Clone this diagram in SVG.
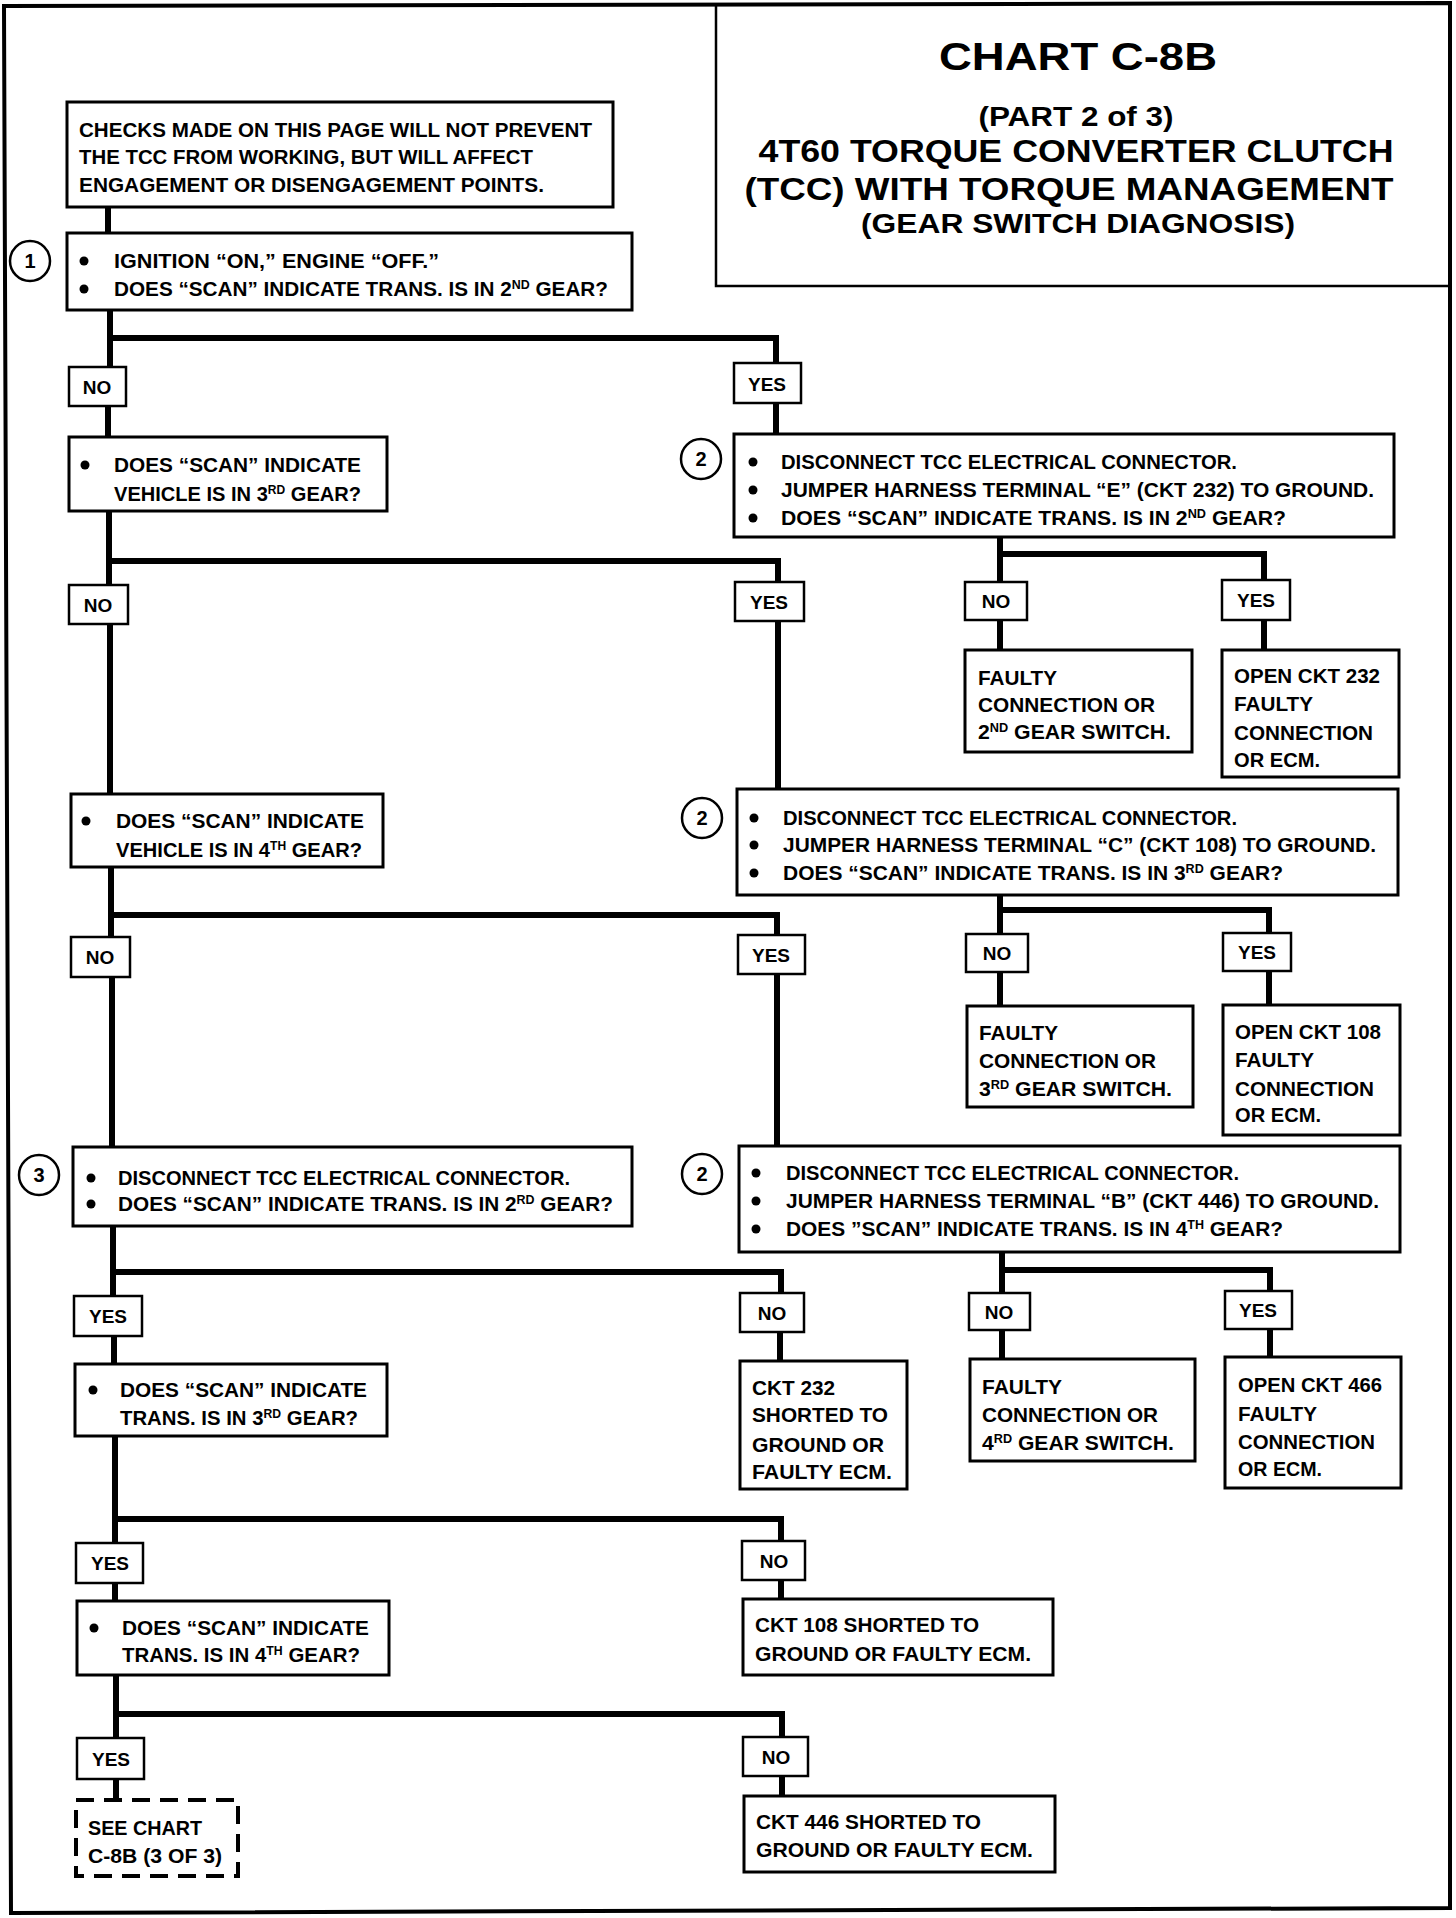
<svg xmlns="http://www.w3.org/2000/svg" width="1456" height="1918" viewBox="0 0 1456 1918">
<style>
.box{fill:#fff;stroke:#000;stroke-width:3}
.lbl{fill:#fff;stroke:#000;stroke-width:2.5}
.dash{fill:#fff;stroke:#000;stroke-width:4;stroke-dasharray:18 10}
.t{font-family:"Liberation Sans",Arial,sans-serif;font-weight:bold;font-size:20px;fill:#000}
.ti{font-family:"Liberation Sans",Arial,sans-serif;font-weight:bold;fill:#000;text-anchor:middle}
.lt{font-family:"Liberation Sans",Arial,sans-serif;font-weight:bold;font-size:19px;fill:#000;text-anchor:middle}
.conn path{fill:none;stroke:#000;stroke-width:6}
.num{fill:#fff;stroke:#000;stroke-width:2.5}
.nt{font-family:"Liberation Sans",Arial,sans-serif;font-weight:bold;font-size:20px;text-anchor:middle}
.sup{font-size:12px}
</style>
<rect x="0" y="0" width="1456" height="1918" fill="#fff"/>
<path d="M4,6 L1450,3 L1450,1908 L11,1913 Z" fill="none" stroke="#000" stroke-width="4"/>

<g id="title">
<path d="M716,5 V286 H1449" fill="none" stroke="#000" stroke-width="2.5"/>
<text class="ti" x="1078" y="70" font-size="38" textLength="278" lengthAdjust="spacingAndGlyphs">CHART C-8B</text>
<text class="ti" x="1076" y="126" font-size="27" textLength="195" lengthAdjust="spacingAndGlyphs">(PART  2 of 3)</text>
<text class="ti" x="1076" y="162" font-size="31" textLength="635" lengthAdjust="spacingAndGlyphs">4T60 TORQUE CONVERTER CLUTCH</text>
<text class="ti" x="1069" y="200" font-size="31" textLength="649" lengthAdjust="spacingAndGlyphs">(TCC) WITH TORQUE MANAGEMENT</text>
<text class="ti" x="1078" y="233" font-size="27" textLength="434" lengthAdjust="spacingAndGlyphs">(GEAR SWITCH DIAGNOSIS)</text>
</g>

<g class="conn" id="connectors">
<path d="M108,207 V233"/>
<path d="M110,310 V367"/>
<path d="M107,338 H776 V363"/>
<path d="M108,406 V437"/>
<path d="M776,403 V434"/>
<path d="M109,511 V585"/>
<path d="M106,561 H778 V582"/>
<path d="M1000,537 V582"/>
<path d="M997,554 H1264 V580"/>
<path d="M1000,620 V650"/>
<path d="M1264,620 V650"/>
<path d="M110,624 V794"/>
<path d="M778,621 V789"/>
<path d="M111,867 V937"/>
<path d="M108,915 H777 V935"/>
<path d="M1000,895 V934"/>
<path d="M997,910 H1269 V933"/>
<path d="M1000,972 V1006"/>
<path d="M1269,971 V1005"/>
<path d="M112,977 V1147"/>
<path d="M777,974 V1146"/>
<path d="M1002,1252 V1293"/>
<path d="M999,1270 H1270 V1291"/>
<path d="M1002,1330 V1359"/>
<path d="M1270,1329 V1357"/>
<path d="M113,1226 V1296"/>
<path d="M110,1272 H781 V1293"/>
<path d="M780,1332 V1361"/>
<path d="M114,1336 V1364"/>
<path d="M115,1436 V1543"/>
<path d="M112,1519 H781 V1541"/>
<path d="M781,1580 V1599"/>
<path d="M115,1583 V1601"/>
<path d="M116,1675 V1738"/>
<path d="M113,1714 H782 V1737"/>
<path d="M782,1776 V1796"/>
<path d="M116,1779 V1800"/>
</g>

<g id="n-checks">
<rect class="box" x="67" y="102" width="546" height="105"/>
<text class="t" x="79" y="137" font-size="21" textLength="513" lengthAdjust="spacingAndGlyphs">CHECKS MADE ON THIS PAGE WILL NOT PREVENT</text>
<text class="t" x="79" y="164" font-size="21" textLength="454" lengthAdjust="spacingAndGlyphs">THE TCC FROM WORKING, BUT WILL AFFECT</text>
<text class="t" x="79" y="192" font-size="21" textLength="465" lengthAdjust="spacingAndGlyphs">ENGAGEMENT OR DISENGAGEMENT POINTS.</text>
</g>

<g id="n-step1">
<circle class="num" cx="30" cy="261" r="20"/>
<text class="nt" x="30" y="268">1</text>
<rect class="box" x="67" y="233" width="565" height="77"/>
<circle cx="84" cy="261" r="4.5"/>
<circle cx="84" cy="289" r="4.5"/>
<text class="t" x="114" y="268" textLength="325" lengthAdjust="spacingAndGlyphs">IGNITION “ON,” ENGINE “OFF.”</text>
<text class="t" x="114" y="296" textLength="494" lengthAdjust="spacingAndGlyphs">DOES “SCAN” INDICATE TRANS. IS IN 2<tspan class="sup" dy="-7">ND</tspan><tspan dy="7"> GEAR?</tspan></text>
</g>

<g id="l-no1"><rect class="lbl" x="69" y="367" width="57" height="39"/><text class="lt" x="97" y="394">NO</text></g>
<g id="l-yes1"><rect class="lbl" x="734" y="363" width="67" height="40"/><text class="lt" x="767" y="391">YES</text></g>

<g id="n-veh3">
<rect class="box" x="69" y="437" width="318" height="74"/>
<circle cx="85" cy="465" r="4.5"/>
<text class="t" x="114" y="472" textLength="247" lengthAdjust="spacingAndGlyphs">DOES “SCAN” INDICATE</text>
<text class="t" x="114" y="501" textLength="247" lengthAdjust="spacingAndGlyphs">VEHICLE IS IN 3<tspan class="sup" dy="-7">RD</tspan><tspan dy="7"> GEAR?</tspan></text>
</g>

<g id="n-step2a">
<circle class="num" cx="701" cy="459" r="20"/>
<text class="nt" x="701" y="466">2</text>
<rect class="box" x="734" y="434" width="660" height="103"/>
<circle cx="753" cy="462" r="4.5"/>
<circle cx="753" cy="490" r="4.5"/>
<circle cx="753" cy="518" r="4.5"/>
<text class="t" x="781" y="469" textLength="456" lengthAdjust="spacingAndGlyphs">DISCONNECT TCC ELECTRICAL CONNECTOR.</text>
<text class="t" x="781" y="497" textLength="593" lengthAdjust="spacingAndGlyphs">JUMPER HARNESS TERMINAL “E” (CKT 232) TO GROUND.</text>
<text class="t" x="781" y="525" textLength="505" lengthAdjust="spacingAndGlyphs">DOES “SCAN” INDICATE TRANS. IS IN 2<tspan class="sup" dy="-7">ND</tspan><tspan dy="7"> GEAR?</tspan></text>
</g>

<g id="l-no2"><rect class="lbl" x="69" y="585" width="59" height="39"/><text class="lt" x="98" y="612">NO</text></g>
<g id="l-yes2"><rect class="lbl" x="735" y="582" width="69" height="39"/><text class="lt" x="769" y="609">YES</text></g>
<g id="l-no2a"><rect class="lbl" x="965" y="582" width="62" height="38"/><text class="lt" x="996" y="608">NO</text></g>
<g id="l-yes2a"><rect class="lbl" x="1222" y="580" width="68" height="40"/><text class="lt" x="1256" y="607">YES</text></g>

<g id="n-faulty2">
<rect class="box" x="965" y="650" width="227" height="102"/>
<text class="t" x="978" y="685" textLength="79" lengthAdjust="spacingAndGlyphs">FAULTY</text>
<text class="t" x="978" y="712" textLength="177" lengthAdjust="spacingAndGlyphs">CONNECTION OR</text>
<text class="t" x="978" y="739" textLength="193" lengthAdjust="spacingAndGlyphs">2<tspan class="sup" dy="-7">ND</tspan><tspan dy="7"> GEAR SWITCH.</tspan></text>
</g>

<g id="n-open232">
<rect class="box" x="1222" y="650" width="177" height="127"/>
<text class="t" x="1234" y="683" textLength="146" lengthAdjust="spacingAndGlyphs">OPEN CKT 232</text>
<text class="t" x="1234" y="711" textLength="79" lengthAdjust="spacingAndGlyphs">FAULTY</text>
<text class="t" x="1234" y="740" textLength="139" lengthAdjust="spacingAndGlyphs">CONNECTION</text>
<text class="t" x="1234" y="767" textLength="86" lengthAdjust="spacingAndGlyphs">OR ECM.</text>
</g>

<g id="n-veh4">
<rect class="box" x="71" y="794" width="312" height="73"/>
<circle cx="86" cy="821" r="4.5"/>
<text class="t" x="116" y="828" textLength="248" lengthAdjust="spacingAndGlyphs">DOES “SCAN” INDICATE</text>
<text class="t" x="116" y="857" textLength="246" lengthAdjust="spacingAndGlyphs">VEHICLE IS IN 4<tspan class="sup" dy="-7">TH</tspan><tspan dy="7"> GEAR?</tspan></text>
</g>

<g id="n-step2b">
<circle class="num" cx="702" cy="818" r="20"/>
<text class="nt" x="702" y="825">2</text>
<rect class="box" x="737" y="789" width="661" height="106"/>
<circle cx="754" cy="818" r="4.5"/>
<circle cx="754" cy="845" r="4.5"/>
<circle cx="754" cy="873" r="4.5"/>
<text class="t" x="783" y="825" textLength="454" lengthAdjust="spacingAndGlyphs">DISCONNECT TCC ELECTRICAL CONNECTOR.</text>
<text class="t" x="783" y="852" textLength="593" lengthAdjust="spacingAndGlyphs">JUMPER HARNESS TERMINAL “C” (CKT 108) TO GROUND.</text>
<text class="t" x="783" y="880" textLength="500" lengthAdjust="spacingAndGlyphs">DOES “SCAN” INDICATE TRANS. IS IN 3<tspan class="sup" dy="-7">RD</tspan><tspan dy="7"> GEAR?</tspan></text>
</g>

<g id="l-no3"><rect class="lbl" x="71" y="937" width="59" height="40"/><text class="lt" x="100" y="964">NO</text></g>
<g id="l-yes3"><rect class="lbl" x="738" y="935" width="67" height="39"/><text class="lt" x="771" y="962">YES</text></g>
<g id="l-no2b"><rect class="lbl" x="966" y="934" width="62" height="38"/><text class="lt" x="997" y="960">NO</text></g>
<g id="l-yes2b"><rect class="lbl" x="1223" y="933" width="68" height="38"/><text class="lt" x="1257" y="959">YES</text></g>

<g id="n-faulty3">
<rect class="box" x="967" y="1006" width="226" height="101"/>
<text class="t" x="979" y="1040" textLength="79" lengthAdjust="spacingAndGlyphs">FAULTY</text>
<text class="t" x="979" y="1068" textLength="177" lengthAdjust="spacingAndGlyphs">CONNECTION OR</text>
<text class="t" x="979" y="1096" textLength="193" lengthAdjust="spacingAndGlyphs">3<tspan class="sup" dy="-7">RD</tspan><tspan dy="7"> GEAR SWITCH.</tspan></text>
</g>

<g id="n-open108">
<rect class="box" x="1223" y="1005" width="177" height="130"/>
<text class="t" x="1235" y="1039" textLength="146" lengthAdjust="spacingAndGlyphs">OPEN CKT 108</text>
<text class="t" x="1235" y="1067" textLength="79" lengthAdjust="spacingAndGlyphs">FAULTY</text>
<text class="t" x="1235" y="1096" textLength="139" lengthAdjust="spacingAndGlyphs">CONNECTION</text>
<text class="t" x="1235" y="1122" textLength="86" lengthAdjust="spacingAndGlyphs">OR ECM.</text>
</g>

<g id="n-step3">
<circle class="num" cx="39" cy="1175" r="20"/>
<text class="nt" x="39" y="1182">3</text>
<rect class="box" x="73" y="1147" width="559" height="79"/>
<circle cx="91" cy="1178" r="4.5"/>
<circle cx="91" cy="1204" r="4.5"/>
<text class="t" x="118" y="1185" textLength="452" lengthAdjust="spacingAndGlyphs">DISCONNECT TCC ELECTRICAL CONNECTOR.</text>
<text class="t" x="118" y="1211" textLength="495" lengthAdjust="spacingAndGlyphs">DOES “SCAN” INDICATE TRANS. IS IN 2<tspan class="sup" dy="-7">RD</tspan><tspan dy="7"> GEAR?</tspan></text>
</g>

<g id="n-step2c">
<circle class="num" cx="702" cy="1174" r="20"/>
<text class="nt" x="702" y="1181">2</text>
<rect class="box" x="739" y="1146" width="661" height="106"/>
<circle cx="756" cy="1173" r="4.5"/>
<circle cx="756" cy="1201" r="4.5"/>
<circle cx="756" cy="1229" r="4.5"/>
<text class="t" x="786" y="1180" textLength="453" lengthAdjust="spacingAndGlyphs">DISCONNECT TCC ELECTRICAL CONNECTOR.</text>
<text class="t" x="786" y="1208" textLength="593" lengthAdjust="spacingAndGlyphs">JUMPER HARNESS TERMINAL “B” (CKT 446) TO GROUND.</text>
<text class="t" x="786" y="1236" textLength="497" lengthAdjust="spacingAndGlyphs">DOES ”SCAN” INDICATE TRANS. IS IN 4<tspan class="sup" dy="-7">TH</tspan><tspan dy="7"> GEAR?</tspan></text>
</g>

<g id="l-yes4"><rect class="lbl" x="74" y="1296" width="68" height="40"/><text class="lt" x="108" y="1323">YES</text></g>
<g id="l-no4"><rect class="lbl" x="740" y="1293" width="64" height="39"/><text class="lt" x="772" y="1320">NO</text></g>
<g id="l-no2c"><rect class="lbl" x="969" y="1293" width="61" height="37"/><text class="lt" x="999" y="1319">NO</text></g>
<g id="l-yes2c"><rect class="lbl" x="1225" y="1291" width="67" height="38"/><text class="lt" x="1258" y="1317">YES</text></g>

<g id="n-ckt232">
<rect class="box" x="740" y="1361" width="167" height="128"/>
<text class="t" x="752" y="1395" textLength="83" lengthAdjust="spacingAndGlyphs">CKT 232</text>
<text class="t" x="752" y="1422" textLength="136" lengthAdjust="spacingAndGlyphs">SHORTED TO</text>
<text class="t" x="752" y="1452" textLength="132" lengthAdjust="spacingAndGlyphs">GROUND OR</text>
<text class="t" x="752" y="1479" textLength="140" lengthAdjust="spacingAndGlyphs">FAULTY ECM.</text>
</g>

<g id="n-faulty4">
<rect class="box" x="970" y="1359" width="225" height="102"/>
<text class="t" x="982" y="1394" textLength="80" lengthAdjust="spacingAndGlyphs">FAULTY</text>
<text class="t" x="982" y="1422" textLength="176" lengthAdjust="spacingAndGlyphs">CONNECTION OR</text>
<text class="t" x="982" y="1450" textLength="192" lengthAdjust="spacingAndGlyphs">4<tspan class="sup" dy="-7">RD</tspan><tspan dy="7"> GEAR SWITCH.</tspan></text>
</g>

<g id="n-open466">
<rect class="box" x="1225" y="1357" width="176" height="131"/>
<text class="t" x="1238" y="1392" textLength="144" lengthAdjust="spacingAndGlyphs">OPEN CKT 466</text>
<text class="t" x="1238" y="1421" textLength="79" lengthAdjust="spacingAndGlyphs">FAULTY</text>
<text class="t" x="1238" y="1449" textLength="137" lengthAdjust="spacingAndGlyphs">CONNECTION</text>
<text class="t" x="1238" y="1476" textLength="84" lengthAdjust="spacingAndGlyphs">OR ECM.</text>
</g>

<g id="n-trans3">
<rect class="box" x="75" y="1364" width="312" height="72"/>
<circle cx="93" cy="1390" r="4.5"/>
<text class="t" x="120" y="1397" textLength="247" lengthAdjust="spacingAndGlyphs">DOES “SCAN” INDICATE</text>
<text class="t" x="120" y="1425" textLength="238" lengthAdjust="spacingAndGlyphs">TRANS. IS IN 3<tspan class="sup" dy="-7">RD</tspan><tspan dy="7"> GEAR?</tspan></text>
</g>

<g id="l-yes5"><rect class="lbl" x="76" y="1543" width="67" height="40"/><text class="lt" x="110" y="1570">YES</text></g>
<g id="l-no5"><rect class="lbl" x="742" y="1541" width="63" height="39"/><text class="lt" x="774" y="1568">NO</text></g>

<g id="n-ckt108">
<rect class="box" x="743" y="1599" width="310" height="76"/>
<text class="t" x="755" y="1632" textLength="224" lengthAdjust="spacingAndGlyphs">CKT 108 SHORTED TO</text>
<text class="t" x="755" y="1661" textLength="276" lengthAdjust="spacingAndGlyphs">GROUND OR FAULTY ECM.</text>
</g>

<g id="n-trans4">
<rect class="box" x="77" y="1601" width="312" height="74"/>
<circle cx="94" cy="1628" r="4.5"/>
<text class="t" x="122" y="1635" textLength="247" lengthAdjust="spacingAndGlyphs">DOES “SCAN” INDICATE</text>
<text class="t" x="122" y="1662" textLength="238" lengthAdjust="spacingAndGlyphs">TRANS. IS IN 4<tspan class="sup" dy="-7">TH</tspan><tspan dy="7"> GEAR?</tspan></text>
</g>

<g id="l-yes6"><rect class="lbl" x="77" y="1738" width="67" height="41"/><text class="lt" x="111" y="1766">YES</text></g>
<g id="l-no6"><rect class="lbl" x="743" y="1737" width="65" height="39"/><text class="lt" x="776" y="1764">NO</text></g>

<g id="n-seechart">
<rect class="dash" x="76" y="1800" width="162" height="76"/>
<text class="t" x="88" y="1835" textLength="114" lengthAdjust="spacingAndGlyphs">SEE CHART</text>
<text class="t" x="88" y="1863" textLength="134" lengthAdjust="spacingAndGlyphs">C-8B  (3 OF 3)</text>
</g>

<g id="n-ckt446">
<rect class="box" x="744" y="1796" width="311" height="76"/>
<text class="t" x="756" y="1829" textLength="225" lengthAdjust="spacingAndGlyphs">CKT 446 SHORTED TO</text>
<text class="t" x="756" y="1857" textLength="277" lengthAdjust="spacingAndGlyphs">GROUND OR FAULTY ECM.</text>
</g>
</svg>
